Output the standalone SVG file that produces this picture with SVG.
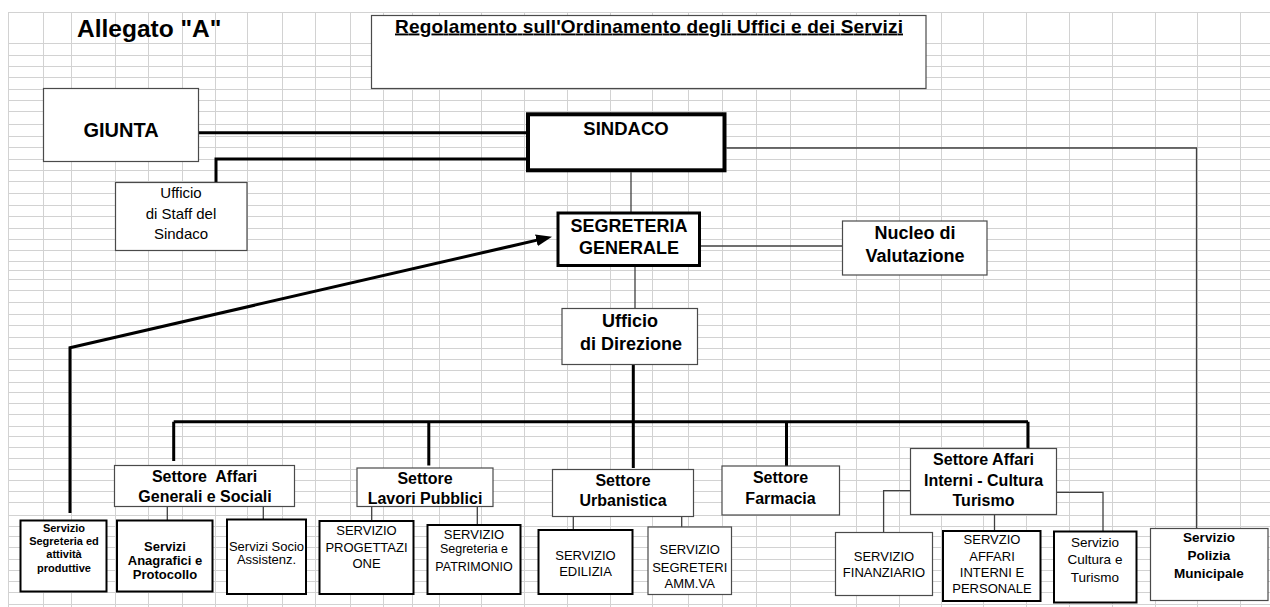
<svg xmlns="http://www.w3.org/2000/svg" width="1270" height="607" viewBox="0 0 1270 607">
<style>
.grid line{stroke:#d2d2d2;stroke-width:1}
.box{fill:#fff;stroke:#4a4a4a;stroke-width:1.2}
.bbox{fill:#fff;stroke:#000;stroke-width:2}
.tb{font-family:"Liberation Sans",Arial,sans-serif;font-weight:bold;text-anchor:middle;fill:#000}
.tr{font-family:"Liberation Sans",Arial,sans-serif;text-anchor:middle;fill:#000}
.thick{fill:none;stroke:#000;stroke-width:3}
.thin{fill:none;stroke:#404040;stroke-width:1.3}
</style>
<defs>
<marker id="arr" viewBox="0 0 16 12" refX="4" refY="6" markerWidth="16" markerHeight="12" markerUnits="userSpaceOnUse" orient="auto">
<path d="M0,0 L16,6 L0,12 z" fill="#000"/>
</marker>
</defs>
<rect width="1270" height="607" fill="#fff"/>
<g class="grid">
<line x1="8.5" y1="12.5" x2="8.5" y2="607"/>
<line x1="43.5" y1="12.5" x2="43.5" y2="607"/>
<line x1="71.5" y1="12.5" x2="71.5" y2="607"/>
<line x1="115.5" y1="12.5" x2="115.5" y2="607"/>
<line x1="148.5" y1="12.5" x2="148.5" y2="607"/>
<line x1="182.5" y1="12.5" x2="182.5" y2="607"/>
<line x1="215.5" y1="12.5" x2="215.5" y2="607"/>
<line x1="247.5" y1="12.5" x2="247.5" y2="607"/>
<line x1="282.5" y1="12.5" x2="282.5" y2="607"/>
<line x1="315.5" y1="12.5" x2="315.5" y2="607"/>
<line x1="350.5" y1="12.5" x2="350.5" y2="607"/>
<line x1="383.5" y1="12.5" x2="383.5" y2="607"/>
<line x1="412.5" y1="12.5" x2="412.5" y2="607"/>
<line x1="439.5" y1="12.5" x2="439.5" y2="607"/>
<line x1="481.5" y1="12.5" x2="481.5" y2="607"/>
<line x1="524.5" y1="12.5" x2="524.5" y2="607"/>
<line x1="567.5" y1="12.5" x2="567.5" y2="607"/>
<line x1="610.5" y1="12.5" x2="610.5" y2="607"/>
<line x1="652.5" y1="12.5" x2="652.5" y2="607"/>
<line x1="688.5" y1="12.5" x2="688.5" y2="607"/>
<line x1="722.5" y1="12.5" x2="722.5" y2="607"/>
<line x1="756.5" y1="12.5" x2="756.5" y2="607"/>
<line x1="790.5" y1="12.5" x2="790.5" y2="607"/>
<line x1="856.5" y1="12.5" x2="856.5" y2="607"/>
<line x1="899.5" y1="12.5" x2="899.5" y2="607"/>
<line x1="941.5" y1="12.5" x2="941.5" y2="607"/>
<line x1="983.5" y1="12.5" x2="983.5" y2="607"/>
<line x1="1026.5" y1="12.5" x2="1026.5" y2="607"/>
<line x1="1069.5" y1="12.5" x2="1069.5" y2="607"/>
<line x1="1112.5" y1="12.5" x2="1112.5" y2="607"/>
<line x1="1155.5" y1="12.5" x2="1155.5" y2="607"/>
<line x1="1197.5" y1="12.5" x2="1197.5" y2="607"/>
<line x1="1240.5" y1="12.5" x2="1240.5" y2="607"/>
<line x1="8" y1="12.5" x2="1270" y2="12.5"/>
<line x1="8" y1="43.5" x2="1270" y2="43.5"/>
<line x1="8" y1="55.5" x2="1270" y2="55.5"/>
<line x1="8" y1="66.5" x2="1270" y2="66.5"/>
<line x1="8" y1="77.5" x2="1270" y2="77.5"/>
<line x1="8" y1="89.5" x2="1270" y2="89.5"/>
<line x1="8" y1="100.5" x2="1270" y2="100.5"/>
<line x1="8" y1="111.5" x2="1270" y2="111.5"/>
<line x1="8" y1="124.5" x2="1270" y2="124.5"/>
<line x1="8" y1="136.5" x2="1270" y2="136.5"/>
<line x1="8" y1="147.5" x2="1270" y2="147.5"/>
<line x1="8" y1="159.5" x2="1270" y2="159.5"/>
<line x1="8" y1="170.5" x2="1270" y2="170.5"/>
<line x1="8" y1="181.5" x2="1270" y2="181.5"/>
<line x1="8" y1="193.5" x2="1270" y2="193.5"/>
<line x1="8" y1="205.5" x2="1270" y2="205.5"/>
<line x1="8" y1="216.5" x2="1270" y2="216.5"/>
<line x1="8" y1="228.5" x2="1270" y2="228.5"/>
<line x1="8" y1="239.5" x2="1270" y2="239.5"/>
<line x1="8" y1="250.5" x2="1270" y2="250.5"/>
<line x1="8" y1="261.5" x2="1270" y2="261.5"/>
<line x1="8" y1="270.5" x2="1270" y2="270.5"/>
<line x1="8" y1="279.5" x2="1270" y2="279.5"/>
<line x1="8" y1="290.5" x2="1270" y2="290.5"/>
<line x1="8" y1="302.5" x2="1270" y2="302.5"/>
<line x1="8" y1="314.5" x2="1270" y2="314.5"/>
<line x1="8" y1="325.5" x2="1270" y2="325.5"/>
<line x1="8" y1="337.5" x2="1270" y2="337.5"/>
<line x1="8" y1="348.5" x2="1270" y2="348.5"/>
<line x1="8" y1="359.5" x2="1270" y2="359.5"/>
<line x1="8" y1="370.5" x2="1270" y2="370.5"/>
<line x1="8" y1="382.5" x2="1270" y2="382.5"/>
<line x1="8" y1="392.5" x2="1270" y2="392.5"/>
<line x1="8" y1="403.5" x2="1270" y2="403.5"/>
<line x1="8" y1="414.5" x2="1270" y2="414.5"/>
<line x1="8" y1="426.5" x2="1270" y2="426.5"/>
<line x1="8" y1="436.5" x2="1270" y2="436.5"/>
<line x1="8" y1="447.5" x2="1270" y2="447.5"/>
<line x1="8" y1="458.5" x2="1270" y2="458.5"/>
<line x1="8" y1="469.5" x2="1270" y2="469.5"/>
<line x1="8" y1="480.5" x2="1270" y2="480.5"/>
<line x1="8" y1="491.5" x2="1270" y2="491.5"/>
<line x1="8" y1="502.5" x2="1270" y2="502.5"/>
<line x1="8" y1="515.5" x2="1270" y2="515.5"/>
<line x1="8" y1="526.5" x2="1270" y2="526.5"/>
<line x1="8" y1="536.5" x2="1270" y2="536.5"/>
<line x1="8" y1="547.5" x2="1270" y2="547.5"/>
<line x1="8" y1="559.5" x2="1270" y2="559.5"/>
<line x1="8" y1="570.5" x2="1270" y2="570.5"/>
<line x1="8" y1="581.5" x2="1270" y2="581.5"/>
<line x1="8" y1="592.5" x2="1270" y2="592.5"/>
<line x1="8" y1="604.5" x2="1270" y2="604.5"/>
</g>
<g id="connectors">
<path class="thick" d="M198.7,132.7 H526"/>
<path class="thick" d="M216,182 V159 H526"/>
<path class="thick" stroke-width="3.5" d="M70,513 V347.7 L540.3,239.4" marker-end="url(#arr)"/>
<path class="thick" d="M633.3,364.5 V468"/>
<path class="thick" stroke-width="4" d="M173.7,421.7 H1028"/>
<path class="thick" d="M173.7,421.7 V461 M428.8,421.7 V465.5 M786.5,421.7 V466 M1028,421.7 V448.5"/>
<path class="thin" d="M631,172.3 V212"/>
<path class="thin" d="M701,246 H842.5"/>
<path class="thin" d="M635,266.7 V308.5"/>
<path class="thin" d="M726.5,148 H1196.5 V528.5"/>
<path class="thin" d="M167.3,506.7 V520.5 M263.3,506.7 V519.5"/>
<path class="thin" d="M371.7,506.5 V521 M477.3,506.5 V525"/>
<path class="thin" d="M573.3,516.5 V530 M681.7,516.5 V527"/>
<path class="thin" d="M910.5,490.7 H883.6 V532.5 M994.5,514.5 V531 M1056.5,492.3 H1103 V531.5"/>
</g>
<g id="allegato">
<text x="77" y="37" font-family="Liberation Sans, Arial, sans-serif" font-weight="bold" font-size="24.5">Allegato "A"</text>
</g>
<g id="titolo">
<rect class="box" x="371.5" y="15.5" width="554.5" height="73"/>
<text x="395" y="32.5" font-family="Liberation Sans, Arial, sans-serif" font-weight="bold" font-size="19" text-decoration="underline" textLength="508">Regolamento sull'Ordinamento degli Uffici e dei Servizi</text>
</g>
<g id="giunta">
<rect class="box" x="43.5" y="88.5" width="155" height="73"/>
<text class="tb" x="121" y="137" font-size="20">GIUNTA</text>
</g>
<g id="sindaco">
<rect fill="#fff" stroke="#000" stroke-width="4" x="528" y="114.3" width="196.5" height="56"/>
<text class="tb" x="626" y="135" font-size="18.5">SINDACO</text>
</g>
<g id="staff">
<rect class="box" x="115.5" y="182.5" width="131.5" height="68"/>
<text class="tr" x="181" y="198.3" font-size="15">Ufficio</text>
<text class="tr" x="181" y="219" font-size="15">di Staff del</text>
<text class="tr" x="181" y="239.3" font-size="15">Sindaco</text>
</g>
<g id="segreteria">
<rect fill="#fff" stroke="#000" stroke-width="3" x="558" y="213" width="141.5" height="52.5"/>
<text class="tb" x="629" y="231.7" font-size="18">SEGRETERIA</text>
<text class="tb" x="629" y="254" font-size="18">GENERALE</text>
</g>
<g id="nucleo">
<rect class="box" x="842.5" y="221" width="144.5" height="54"/>
<text class="tb" x="915" y="239" font-size="18">Nucleo di</text>
<text class="tb" x="915" y="261.7" font-size="18">Valutazione</text>
</g>
<g id="direzione">
<rect class="box" x="562" y="308.5" width="135.5" height="56"/>
<text class="tb" x="630" y="326.7" font-size="18">Ufficio</text>
<text class="tb" x="631" y="350" font-size="18">di Direzione</text>
</g>
<g id="settore-affari-generali">
<rect class="box" x="114.5" y="465.5" width="180" height="41"/>
<text class="tb" x="204.5" y="481.7" font-size="16" xml:space="preserve">Settore  Affari</text>
<text class="tb" x="205" y="501.7" font-size="16">Generali e Sociali</text>
</g>
<g id="servizio-segreteria">
<rect class="bbox" x="20.5" y="520.5" width="86" height="71"/>
<text class="tb" x="64" y="531.7" font-size="11">Servizio</text>
<text class="tb" x="64" y="545" font-size="11">Segreteria ed</text>
<text class="tb" x="64" y="558.3" font-size="11">attività</text>
<text class="tb" x="64" y="571.7" font-size="11">produttive</text>
</g>
<g id="servizi-anagrafici">
<rect class="bbox" x="117" y="520.5" width="95.5" height="71"/>
<text class="tb" x="165" y="550.7" font-size="13">Servizi</text>
<text class="tb" x="165" y="565" font-size="13">Anagrafici e</text>
<text class="tb" x="165" y="579.3" font-size="13">Protocollo</text>
</g>
<g id="servizi-socio">
<rect class="bbox" x="227" y="519.5" width="79" height="74.5"/>
<text class="tr" x="266.5" y="551" font-size="13">Servizi Socio</text>
<text class="tr" x="266.5" y="564" font-size="13">Assistenz.</text>
</g>
<g id="settore-lavori">
<rect class="box" x="357" y="468" width="136" height="38.5"/>
<text class="tb" x="425" y="484.3" font-size="16">Settore</text>
<text class="tb" x="425" y="504.3" font-size="16">Lavori Pubblici</text>
</g>
<g id="servizio-progettazione">
<rect class="bbox" x="319.5" y="521" width="94" height="73"/>
<text class="tr" x="366.5" y="535" font-size="13">SERVIZIO</text>
<text class="tr" x="366.5" y="551.5" font-size="13">PROGETTAZI</text>
<text class="tr" x="366.5" y="567.5" font-size="13">ONE</text>
</g>
<g id="servizio-patrimonio">
<rect class="bbox" x="427.5" y="525" width="93" height="69"/>
<text class="tr" x="474" y="539" font-size="13">SERVIZIO</text>
<text class="tr" x="474" y="553.3" font-size="12.5">Segreteria e</text>
<text class="tr" x="474" y="571" font-size="12.5">PATRIMONIO</text>
</g>
<g id="settore-urbanistica">
<rect class="box" x="552.5" y="469.5" width="141" height="47"/>
<text class="tb" x="623" y="486" font-size="16">Settore</text>
<text class="tb" x="623" y="506" font-size="16">Urbanistica</text>
</g>
<g id="servizio-edilizia">
<rect class="bbox" x="538.5" y="530" width="94" height="64"/>
<text class="tr" x="585.5" y="560" font-size="13">SERVIZIO</text>
<text class="tr" x="585.5" y="576" font-size="13">EDILIZIA</text>
</g>
<g id="servizio-segreteri">
<rect class="box" stroke-width="1.5" x="648" y="527" width="83.5" height="67.5"/>
<text class="tr" x="689.7" y="554.3" font-size="13">SERVIZIO</text>
<text class="tr" x="689.7" y="571.7" font-size="13">SEGRETERI</text>
<text class="tr" x="689.7" y="588.3" font-size="13">AMM.VA</text>
</g>
<g id="settore-farmacia">
<rect class="box" x="722" y="466" width="117.5" height="49"/>
<text class="tb" x="780.5" y="483.3" font-size="16">Settore</text>
<text class="tb" x="780.5" y="504" font-size="16">Farmacia</text>
</g>
<g id="settore-affari-interni">
<rect class="box" x="910.5" y="448.5" width="146" height="66"/>
<text class="tb" x="983.5" y="465" font-size="16">Settore Affari</text>
<text class="tb" x="983.5" y="486" font-size="16">Interni - Cultura</text>
<text class="tb" x="983.5" y="506" font-size="16">Turismo</text>
</g>
<g id="servizio-finanziario">
<rect class="box" x="835.5" y="532.5" width="97" height="63"/>
<text class="tr" x="884" y="561" font-size="13">SERVIZIO</text>
<text class="tr" x="884" y="577" font-size="13">FINANZIARIO</text>
</g>
<g id="servizio-affari-interni">
<rect class="bbox" x="943" y="531" width="97.5" height="70"/>
<text class="tr" x="992" y="544.3" font-size="13">SERVZIO</text>
<text class="tr" x="992" y="561" font-size="13">AFFARI</text>
<text class="tr" x="992" y="576.7" font-size="13">INTERNI E</text>
<text class="tr" x="992" y="592.7" font-size="13">PERSONALE</text>
</g>
<g id="servizio-cultura">
<rect class="bbox" x="1054" y="531.5" width="82.5" height="71"/>
<text class="tr" x="1095" y="546.7" font-size="13.5">Servizio</text>
<text class="tr" x="1095" y="564" font-size="13.5">Cultura e</text>
<text class="tr" x="1095" y="581.7" font-size="13.5">Turismo</text>
</g>
<g id="servizio-polizia">
<rect class="box" x="1150.5" y="528.5" width="117.5" height="72"/>
<text class="tb" x="1209" y="541.7" font-size="13.5">Servizio</text>
<text class="tb" x="1209" y="560" font-size="13.5">Polizia</text>
<text class="tb" x="1209" y="578.3" font-size="13.5">Municipale</text>
</g>
</svg>
